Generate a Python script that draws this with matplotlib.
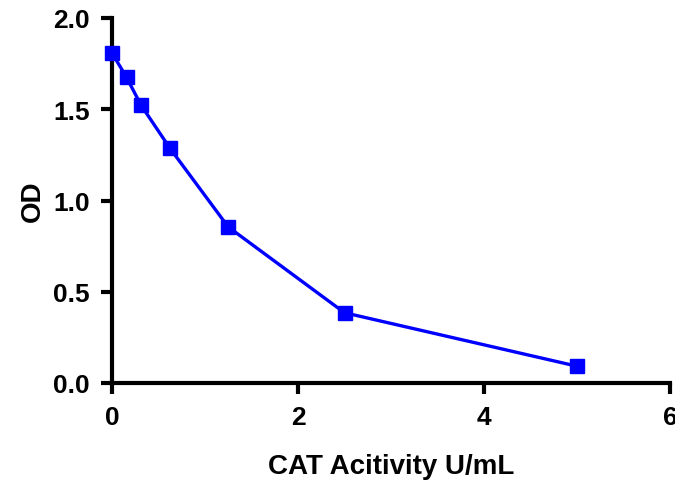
import matplotlib
matplotlib.use("Agg")
import matplotlib.pyplot as plt

activity = [0, 0.15625, 0.3125, 0.625, 1.25, 2.5, 5]
od = [1.808, 1.675, 1.522, 1.285, 0.855, 0.385, 0.092]
xticks = [0, 2, 4, 6]
yticks = [0.0, 0.5, 1.0, 1.5, 2.0]

plt.rcParams['font.family'] = ['Liberation Sans', 'DejaVu Sans']
plt.rcParams['font.weight'] = 'bold'

fig = plt.figure(figsize=(6.75, 4.85), dpi=100)
ax = fig.add_axes([112/675, 1-384/485, (670-112)/675, (384-19)/485])
ax.plot(activity, od, color='#0000ff', lw=2.4, marker='s', ms=10.5, clip_on=False, zorder=3)
ax.set_xlim(0, 6)
ax.set_ylim(0, 2.0)
ax.set_xticks(xticks)
ax.set_xticklabels([str(t) for t in xticks])
ax.set_yticks(yticks)
ax.set_yticklabels([f"{t:.1f}" for t in yticks])
for s in ['top', 'right']:
    ax.spines[s].set_visible(False)
for s in ['left', 'bottom']:
    ax.spines[s].set_linewidth(3.0)
ax.tick_params(width=3.0, length=8, labelsize=19, pad=8)
for lbl in ax.get_xticklabels() + ax.get_yticklabels():
    lbl.set_fontweight('bold')
ax.set_xlabel('CAT Acitivity U/mL', fontsize=20, fontweight='bold', labelpad=17)
ax.set_ylabel('OD', fontsize=20, fontweight='bold', labelpad=5)
fig.savefig('out.png', dpi=100)
